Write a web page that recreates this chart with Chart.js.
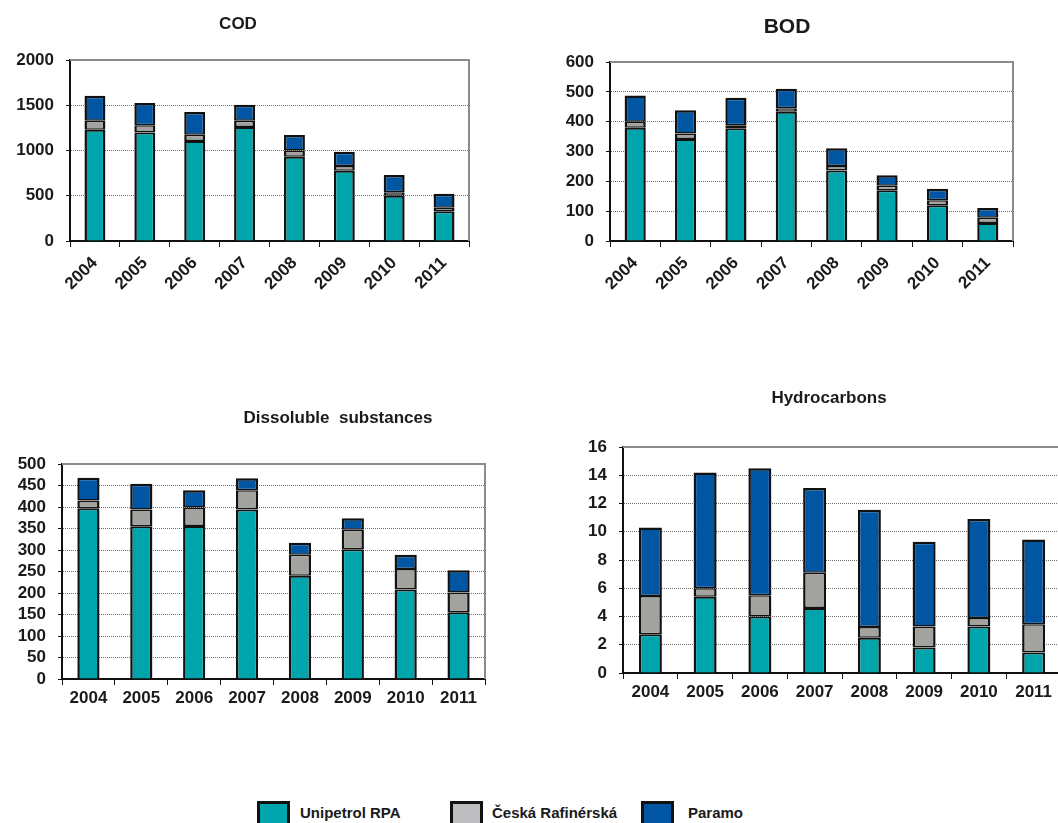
<!DOCTYPE html>
<html>
<head>
<meta charset="utf-8">
<script src="https://cdn.jsdelivr.net/npm/chart.js@4.4.1/dist/chart.umd.min.js"></script>
<style>
  html, body { margin: 0; padding: 0; background: #fff; overflow: hidden; width: 1058px; height: 823px; }
  .panel { position: absolute; }
  .legend-box { position: absolute; box-sizing: border-box; border: 3px solid #111; }
  .legend-text { position: absolute; font: bold 15px "Liberation Sans", Arial, sans-serif; color: #1a1a1a; line-height: 18px; white-space: nowrap; }
</style>
</head>
<body>
<canvas id="cod" class="panel"></canvas>
<canvas id="bod" class="panel"></canvas>
<canvas id="diss" class="panel"></canvas>
<canvas id="hc" class="panel"></canvas>
<div id="legend"></div>
<script>
// Years on the category axis
const years = ['2004', '2005', '2006', '2007', '2008', '2009', '2010', '2011'];
// Company (series) names
const seriesNames = ['Unipetrol RPA', 'Česká Rafinérská', 'Paramo'];

// COD
const codUnipetrol = [1230, 1200, 1105, 1260, 930, 775, 500, 330];
const codCeska     = [100, 80, 70, 70, 70, 55, 40, 38];
const codParamo    = [275, 245, 250, 175, 170, 155, 190, 155];
const codTicks     = [0, 500, 1000, 1500, 2000];

// BOD
const bodUnipetrol = [380, 342, 378, 433, 236, 170, 120, 60];
const bodCeska     = [20, 18, 10, 12, 15, 15, 17, 18];
const bodParamo    = [88, 78, 92, 65, 60, 35, 38, 33];
const bodTicks     = [0, 100, 200, 300, 400, 500, 600];

// Dissoluble substances
const dissUnipetrol = [397, 355, 356, 394, 240, 302, 208, 155];
const dissCeska     = [18, 39, 43, 45, 49, 45, 48, 46];
const dissParamo    = [53, 60, 40, 28, 28, 27, 33, 52];
const dissTicks     = [0, 50, 100, 150, 200, 250, 300, 350, 400, 450, 500];

// Hydrocarbons
const hcUnipetrol = [2.75, 5.4, 4.0, 4.6, 2.5, 1.8, 3.3, 1.45];
const hcCeska     = [2.7, 0.6, 1.5, 2.5, 0.75, 1.5, 0.6, 2.0];
const hcParamo    = [4.85, 8.2, 9.0, 6.0, 8.3, 6.0, 7.0, 6.0];
const hcTicks     = [0, 2, 4, 6, 8, 10, 12, 14, 16];

// Styling
const FONT = '"Liberation Sans", Arial, Helvetica, sans-serif';
const barColors = ['#00A5AB', '#A2A29E', '#0156A3'];
const legendColors = ['#00A5AB', '#BDBDBF', '#0156A3'];
const segmentBorders = [
  { left: 2.5, right: 2.5, top: 2, bottom: 0 },
  { left: 2.5, right: 2.5, top: 1.5, bottom: 1.5 },
  { left: 2.5, right: 2.5, top: 2.5, bottom: 1.5 }
];

// Heading text and the grey frame on the top/right of the plot area
const panelPlugin = {
  id: 'panel',
  beforeDatasetsDraw(chart, args, opts) {
    const { ctx, chartArea: a } = chart;
    ctx.save();
    ctx.strokeStyle = '#8c8c8c';
    ctx.lineWidth = 2;
    ctx.beginPath();
    ctx.moveTo(a.left, a.top);
    ctx.lineTo(a.right, a.top);
    ctx.lineTo(a.right, a.bottom);
    ctx.stroke();
    ctx.restore();
  },
  afterDraw(chart, args, opts) {
    const ctx = chart.ctx;
    ctx.save();
    ctx.font = 'bold ' + opts.size + 'px ' + FONT;
    ctx.fillStyle = '#1a1a1a';
    ctx.textAlign = 'center';
    ctx.textBaseline = 'middle';
    ctx.fillText(opts.text, opts.x, opts.y);
    ctx.restore();
  }
};

function makeChart(id, geo, title, values, ticks, rotate) {
  const canvas = document.getElementById(id);
  canvas.width = geo.w; canvas.height = geo.h;
  canvas.style.left = geo.x + 'px'; canvas.style.top = geo.y + 'px';
  canvas.style.width = geo.w + 'px'; canvas.style.height = geo.h + 'px';
  const datasets = values.map((v, i) => ({
    label: seriesNames[i],
    data: v,
    backgroundColor: barColors[i],
    borderColor: '#111',
    borderWidth: segmentBorders[i],
    borderSkipped: false,
    inflateAmount: 0,
    categoryPercentage: 1.0,
    barPercentage: 0.42
  }));
  return new Chart(canvas, {
    type: 'bar',
    data: { labels: years, datasets },
    plugins: [panelPlugin],
    options: {
      responsive: false,
      animation: false,
      devicePixelRatio: 1,
      layout: { padding: { left: 0, right: geo.padRight, top: geo.padTop, bottom: 0 } },
      plugins: {
        legend: { display: false },
        tooltip: { enabled: false },
        panel: { text: title, x: geo.titleX, y: geo.titleY, size: geo.titleSize }
      },
      scales: {
        x: {
          stacked: true,
          offset: true,
          afterFit(scale) { scale.height = geo.xAxisH; },
          grid: { display: true, drawOnChartArea: false, drawTicks: true, tickLength: 6, color: '#111', offset: true },
          border: { display: true, color: '#111', width: 2 },
          ticks: {
            font: { family: FONT, weight: 'bold', size: 17 },
            color: '#1a1a1a',
            padding: rotate ? 6 : 3,
            minRotation: rotate ? 45 : 0,
            maxRotation: rotate ? 45 : 0,
            autoSkip: false
          }
        },
        y: {
          stacked: true,
          min: ticks[0],
          max: ticks[ticks.length - 1],
          afterFit(scale) { scale.width = geo.yAxisW; },
          afterBuildTicks(scale) { scale.ticks = ticks.map(v => ({ value: v })); },
          grid: { display: true, color: '#6e6e6e', lineWidth: 1, drawTicks: true, tickLength: 4, tickColor: '#111' },
          border: { display: true, color: '#111', width: 2, dash: [1, 1] },
          ticks: {
            font: { family: FONT, weight: 'bold', size: 17 },
            color: '#1a1a1a',
            padding: 12,
            autoSkip: false,
            callback: (v) => String(v)
          }
        }
      }
    }
  });
}

// Panel geometry (canvas box, plot-area offsets, heading placement)
const codGeo  = { x: 0,   y: 0,   w: 480, h: 300, yAxisW: 70, padRight: 11, padTop: 60, xAxisH: 59, titleX: 238, titleY: 24, titleSize: 17 };
const bodGeo  = { x: 530, y: 0,   w: 528, h: 300, yAxisW: 80, padRight: 45, padTop: 62, xAxisH: 59, titleX: 257, titleY: 27, titleSize: 21 };
const dissGeo = { x: 0,   y: 400, w: 500, h: 320, yAxisW: 62, padRight: 15, padTop: 64, xAxisH: 41, titleX: 338, titleY: 18, titleSize: 17 };
const hcGeo   = { x: 560, y: 380, w: 515, h: 330, yAxisW: 63, padRight: 14, padTop: 67, xAxisH: 37, titleX: 269, titleY: 18, titleSize: 17 };

makeChart('cod',  codGeo,  'COD',  [codUnipetrol, codCeska, codParamo], codTicks, true);
makeChart('bod',  bodGeo,  'BOD',  [bodUnipetrol, bodCeska, bodParamo], bodTicks, true);
makeChart('diss', dissGeo, 'Dissoluble  substances', [dissUnipetrol, dissCeska, dissParamo], dissTicks, false);
makeChart('hc',   hcGeo,   'Hydrocarbons', [hcUnipetrol, hcCeska, hcParamo], hcTicks, false);

// Shared legend along the bottom
const legendSlots = [ { box: 257, text: 300 }, { box: 450, text: 492 }, { box: 641, text: 688 } ];
const legend = document.getElementById('legend');
seriesNames.forEach((name, i) => {
  const box = document.createElement('div');
  box.className = 'legend-box';
  box.style.left = legendSlots[i].box + 'px';
  box.style.top = '801px';
  box.style.width = '33px';
  box.style.height = '28px';
  box.style.background = legendColors[i];
  legend.appendChild(box);
  const label = document.createElement('div');
  label.className = 'legend-text';
  label.style.left = legendSlots[i].text + 'px';
  label.style.top = '804px';
  label.textContent = name;
  legend.appendChild(label);
});
</script>
</body>
</html>
